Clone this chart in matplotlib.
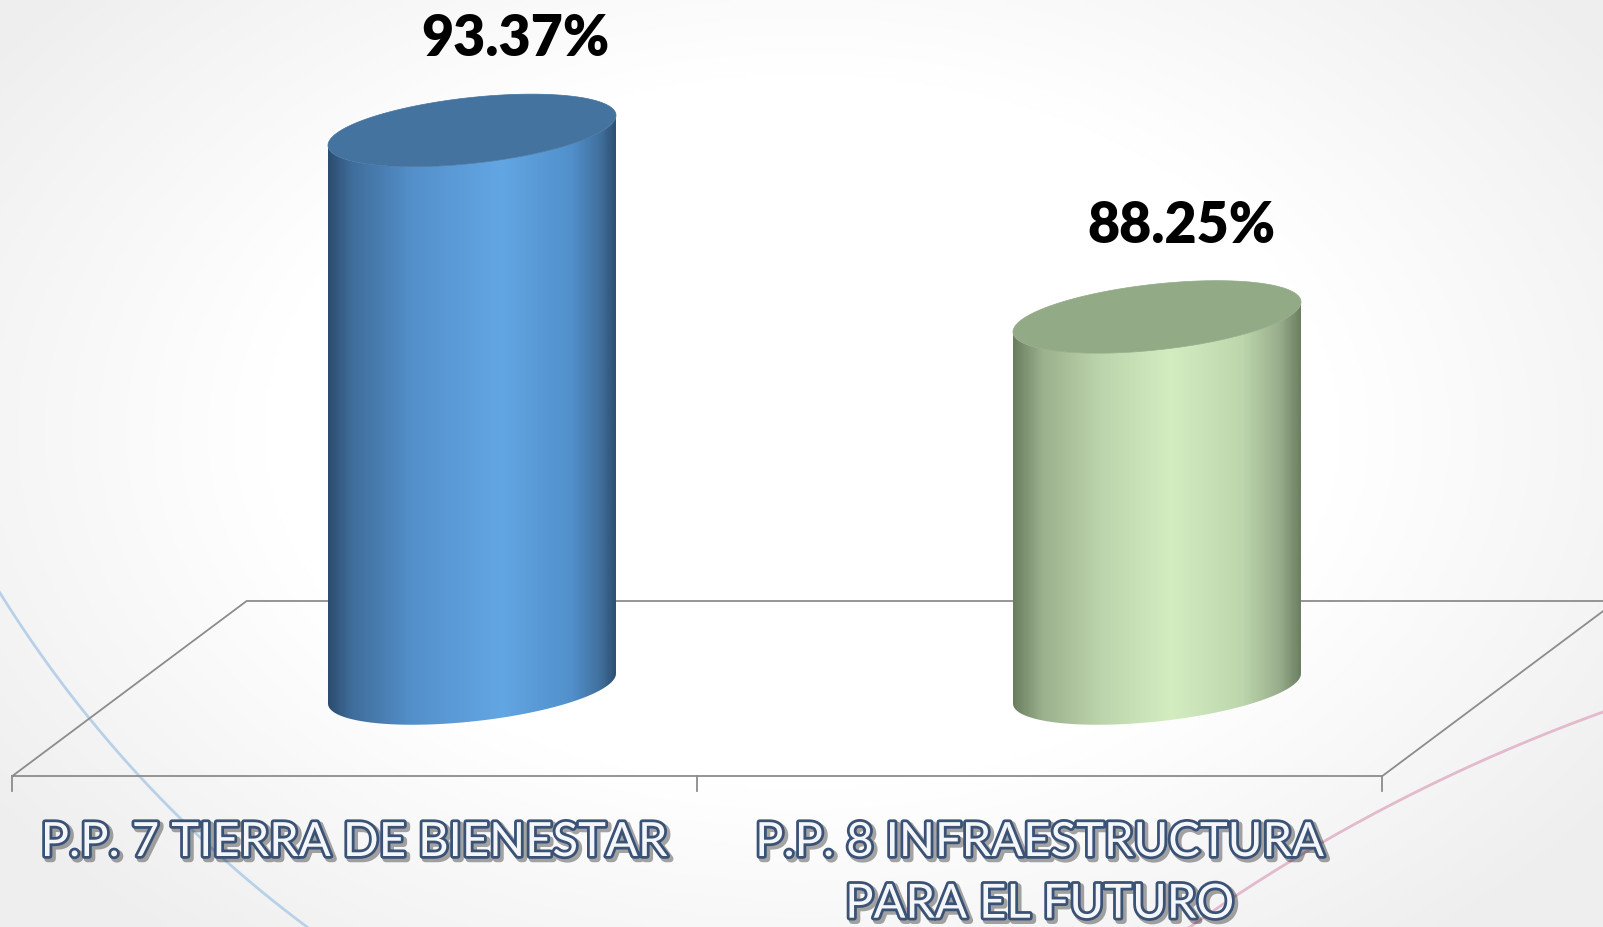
import numpy as np
import matplotlib
matplotlib.use("Agg")
import matplotlib.pyplot as plt
from matplotlib.patches import Polygon
from matplotlib.colors import LinearSegmentedColormap
import matplotlib.patheffects as pe

# ---------------- data ----------------
categories = ["P.P. 7 TIERRA DE BIENESTAR", "P.P. 8 INFRAESTRUCTURA\nPARA EL FUTURO"]
values = [93.37, 88.25]
value_labels = ["93.37%", "88.25%"]
axis_min = 78.05

# ---------------- style ----------------
body_stops = [
    [(0.0, "#2C4D70"), (0.08, "#3F6D9B"), (0.3, "#5491CC"), (0.6, "#62A6E3"),
     (0.85, "#5190CB"), (0.95, "#416F9C"), (1.0, "#2E5174")],
    [(0.0, "#6A7F60"), (0.1, "#9BB08D"), (0.3, "#BCD4AB"), (0.55, "#D3EDC1"),
     (0.8, "#BDD6AC"), (0.93, "#98AD8B"), (1.0, "#6C8063")],
]
cap_colors = ["#44739F", "#93AA87"]

W, H = 1603, 927
fig = plt.figure(figsize=(W / 100, H / 100), dpi=100)

# ---------------- background ----------------
bg = fig.add_axes([0, 0, 1, 1], zorder=0)
yy, xx = np.mgrid[0:H:4, 0:W:4]
r = np.sqrt(((xx - 800) / 900.0) ** 2 + ((yy - 430) / 600.0) ** 2)
f = np.clip((r - 0.6) / 0.5, 0, 1)
g = 1 - 0.065 * f
img = np.dstack([g, g, g])
bg.imshow(img, extent=[0, W, H, 0], aspect="auto", interpolation="bilinear")


def circle3(p1, p2, p3):
    (x1, y1), (x2, y2), (x3, y3) = p1, p2, p3
    A = np.array([[x2 - x1, y2 - y1], [x3 - x1, y3 - y1]], float) * 2
    b = np.array([x2**2 - x1**2 + y2**2 - y1**2, x3**2 - x1**2 + y3**2 - y1**2], float)
    cx, cy = np.linalg.solve(A, b)
    return cx, cy, np.hypot(x1 - cx, y1 - cy)


for pts, col in [(((0, 593), (143, 780), (307, 927)), "#B9D1E8"),
                 (((1190, 927), (1420, 790), (1603, 712)), "#E3B9CC")]:
    cx, cy, rr = circle3(*pts)
    t = np.linspace(0, 2 * np.pi, 2000)
    bg.plot(cx + rr * np.cos(t), cy + rr * np.sin(t), color=col, lw=2.0)
bg.set_xlim(0, W)
bg.set_ylim(H, 0)
bg.axis("off")

# ---------------- chart ----------------
ax = fig.add_axes([0, 0, 1, 1], zorder=1)
ax.patch.set_alpha(0)

px_per_unit_x = 685.0
px_per_unit_y = 36.43
x0_px = 472.0
base_px = 688.5
xlim = (-x0_px / px_per_unit_x, (W - x0_px) / px_per_unit_x)
ylim = (axis_min - (H - base_px) / px_per_unit_y, axis_min + base_px / px_per_unit_y)

depth_dx = 0.171
depth_dy = 87.5 / px_per_unit_y
half_w = 144.0 / px_per_unit_x
tilt = 15.0 / px_per_unit_y
minor = 33.0 / px_per_unit_y
n = len(values)
base = axis_min
line_col = "#8C8C8C"

# floor
fx = [-0.5 - depth_dx, n - 0.5 - depth_dx, n - 0.5 + depth_dx, -0.5 + depth_dx, -0.5 - depth_dx]
fy = [base - depth_dy, base - depth_dy, base + depth_dy, base + depth_dy, base - depth_dy]
ax.plot(fx, fy, color=line_col, lw=1.3, zorder=1, solid_joinstyle="miter")
tick_len = 15.0 / px_per_unit_y
for k in range(n + 1):
    xt = k - 0.5 - depth_dx
    ax.plot([xt, xt], [base - depth_dy, base - depth_dy - tick_len], color=line_col, lw=1.3, zorder=1)


def ellipse_pts(cx, cy, t):
    return np.column_stack([cx + half_w * np.cos(t), cy + tilt * np.cos(t) + minor * np.sin(t)])


for i, v in enumerate(values):
    cx = i
    tf = np.linspace(-np.pi, 0, 200)
    bottom_front = ellipse_pts(cx, base, tf)
    top_front = ellipse_pts(cx, v, tf[::-1])
    body = Polygon(np.vstack([bottom_front, top_front]), closed=True,
                   facecolor="none", edgecolor="none", zorder=3)
    ax.add_patch(body)
    cmap = LinearSegmentedColormap.from_list(f"c{i}", body_stops[i])
    grad = cmap(np.linspace(0, 1, 300))[np.newaxis, :, :3]
    im = ax.imshow(grad, extent=[cx - half_w, cx + half_w, base - 2, v + 2],
                   aspect="auto", interpolation="bilinear", zorder=3)
    im.set_clip_path(body)
    cap = Polygon(ellipse_pts(cx, v, np.linspace(0, 2 * np.pi, 300)), closed=True,
                  facecolor=cap_colors[i], edgecolor=cap_colors[i], lw=0.5, zorder=4)
    ax.add_patch(cap)
    # perspective shift of the label grows with the bar height
    lab_dx = -0.0227 + 0.00566 * (v - base)
    ax.text(i + lab_dx, v + 74.0 / px_per_unit_y, value_labels[i], ha="center", va="baseline",
            fontsize=40, fontweight="heavy", family="Lato", color="black", zorder=6)

label_effects = [
    pe.SimpleLineShadow(offset=(2, -2), shadow_color="#000000", alpha=0.35, linewidth=5),
    pe.Stroke(linewidth=4, foreground="#3A5275"),
    pe.Normal(),
]
for i, lab in enumerate(categories):
    ax.text(i - depth_dx, base - (822 - base_px) / px_per_unit_y, lab, ha="center", va="top",
            fontsize=34, fontweight="normal", family="Lato", color="#F4F6F9",
            linespacing=1.58, multialignment="center", path_effects=label_effects, zorder=6)

ax.set_xlim(*xlim)
ax.set_ylim(*ylim)
ax.axis("off")

fig.savefig("out.png", dpi=100)
